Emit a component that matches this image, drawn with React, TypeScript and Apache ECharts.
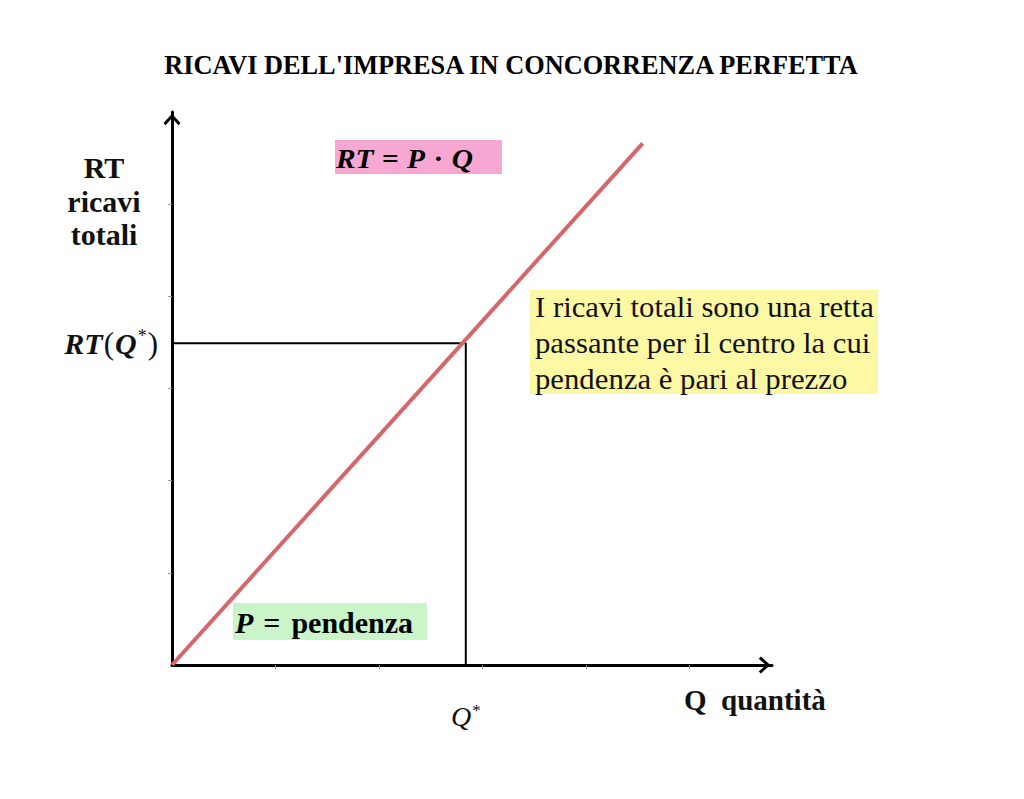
import { useEffect, useRef } from "react";
import * as echarts from "echarts";

// total revenue line RT = P * Q
const lineQ = [0, 4.55];
const lineRT = [0, 5.66];
// equilibrium quantity and revenue
const qStar = 2.84;
const rtStar = 3.49;
// axis tick positions
const xTicks = [1, 2, 3, 4, 5];
const yTicks = [1, 2, 3, 4, 5];

const SERIF = "'Liberation Serif', 'DejaVu Serif', serif";
const ARROW = "path://M10,0 L20,11 L17.5,13.5 L10,5 L2.5,13.5 L0,11 Z";

export default function App() {
  const ref = useRef<HTMLDivElement | null>(null);

  useEffect(() => {
    if (!ref.current) {
      return;
    }
    const chart = echarts.init(ref.current, undefined, { renderer: "svg" });

    const axisLine = {
      lineStyle: { color: "#000", width: 3 },
      symbol: ["none", ARROW],
      symbolSize: [17, 15],
      symbolOffset: [0, -7.5]
    };
    const bold = { fontFamily: SERIF, fontWeight: "bold", color: "#111" };
    const boldItalic = { ...bold, fontStyle: "italic" };

    chart.setOption({
      animation: false,
      backgroundColor: "#fff",
      grid: { left: 172, right: 252, top: 112, bottom: 134 },
      xAxis: {
        type: "value",
        min: 0,
        max: 5.8,
        interval: 1,
        splitLine: { show: false },
        axisLine,
        axisTick: {
          customValues: xTicks,
          length: 4,
          lineStyle: { color: "#999", width: 1 }
        },
        axisLabel: {
          customValues: [qStar],
          margin: 37,
          formatter: () => "{q|Q}{s|*}",
          rich: {
            q: { fontFamily: SERIF, fontStyle: "italic", fontSize: 28, color: "#111" },
            s: { fontFamily: SERIF, fontSize: 17, color: "#111", verticalAlign: "top", padding: [0, 0, 12, 1] }
          }
        }
      },
      yAxis: {
        type: "value",
        min: 0,
        max: 6,
        interval: 1,
        splitLine: { show: false },
        axisLine,
        axisTick: {
          customValues: yTicks,
          length: 4,
          lineStyle: { color: "#999", width: 1 }
        },
        axisLabel: {
          customValues: [rtStar],
          margin: 13,
          formatter: () => "{b|RT}{p|(}{b|Q}{s|*}{p|)}",
          rich: {
            b: { ...boldItalic, fontSize: 30 },
            p: { fontFamily: SERIF, fontSize: 31, color: "#111", padding: [0, 1, 0, 1] },
            s: { fontFamily: SERIF, fontSize: 18, color: "#111", verticalAlign: "top", padding: [0, 0, 14, 1] }
          }
        }
      },
      series: [
        {
          type: "line",
          data: [
            [0, rtStar],
            [qStar, rtStar],
            [qStar, 0]
          ],
          symbol: "none",
          z: 2,
          lineStyle: { color: "#000", width: 2 }
        },
        {
          type: "line",
          data: lineQ.map((q, i) => [q, lineRT[i]]),
          symbol: "none",
          z: 3,
          lineStyle: { color: "#d5676a", width: 4 }
        }
      ],
      graphic: [
        {
          type: "text",
          x: 511,
          y: 65,
          scaleX: 0.94,
          style: {
            text: "RICAVI DELL'IMPRESA IN CONCORRENZA PERFETTA",
            font: `bold 28px ${SERIF}`,
            fill: "#000",
            align: "center",
            verticalAlign: "middle"
          }
        },
        {
          type: "text",
          x: 104,
          y: 151,
          style: {
            text: "RT\nricavi\ntotali",
            font: `bold 30px ${SERIF}`,
            lineHeight: 33.5,
            fill: "#111",
            align: "center",
            verticalAlign: "top"
          }
        },
        {
          type: "text",
          x: 684,
          y: 700,
          style: {
            text: "Q  quantità",
            font: `bold 29px ${SERIF}`,
            fill: "#111",
            align: "left",
            verticalAlign: "middle"
          }
        },
        {
          type: "rect",
          shape: { x: 335, y: 140, width: 167, height: 34 },
          style: { fill: "#f6a7d2" }
        },
        {
          type: "text",
          x: 336,
          y: 158,
          scaleX: 1.05,
          style: {
            text: "{b|RT}{o|=}{b|P}{o|·}{b|Q}",
            align: "left",
            verticalAlign: "middle",
            rich: {
              b: { ...boldItalic, fontSize: 28 },
              o: { ...bold, fontSize: 28, padding: [0, 8, 0, 8] }
            }
          }
        },
        {
          type: "rect",
          shape: { x: 233, y: 603, width: 194, height: 37 },
          style: { fill: "#c9f5c9" }
        },
        {
          type: "text",
          x: 235,
          y: 622,
          style: {
            text: "{b|P}{o|=}{w|pendenza}",
            align: "left",
            verticalAlign: "middle",
            rich: {
              b: { ...boldItalic, fontSize: 30 },
              o: { ...bold, fontSize: 30, padding: [0, 11, 0, 10] },
              w: { ...bold, fontSize: 30 }
            }
          }
        },
        {
          type: "rect",
          shape: { x: 530, y: 290, width: 348, height: 104 },
          style: { fill: "#fcf8a4" }
        },
        {
          type: "text",
          x: 535,
          y: 289,
          scaleX: 1.06,
          style: {
            text: "I ricavi totali sono una retta\npassante per il centro la cui\npendenza è pari al prezzo",
            font: `29px ${SERIF}`,
            lineHeight: 36,
            fill: "#111",
            align: "left",
            verticalAlign: "top"
          }
        }
      ]
    });

    return () => {
      chart.dispose();
    };
  }, []);

  return (
    <div
      ref={ref}
      style={{ position: "absolute", left: 0, top: 0, width: 1024, height: 799 }}
    />
  );
}
